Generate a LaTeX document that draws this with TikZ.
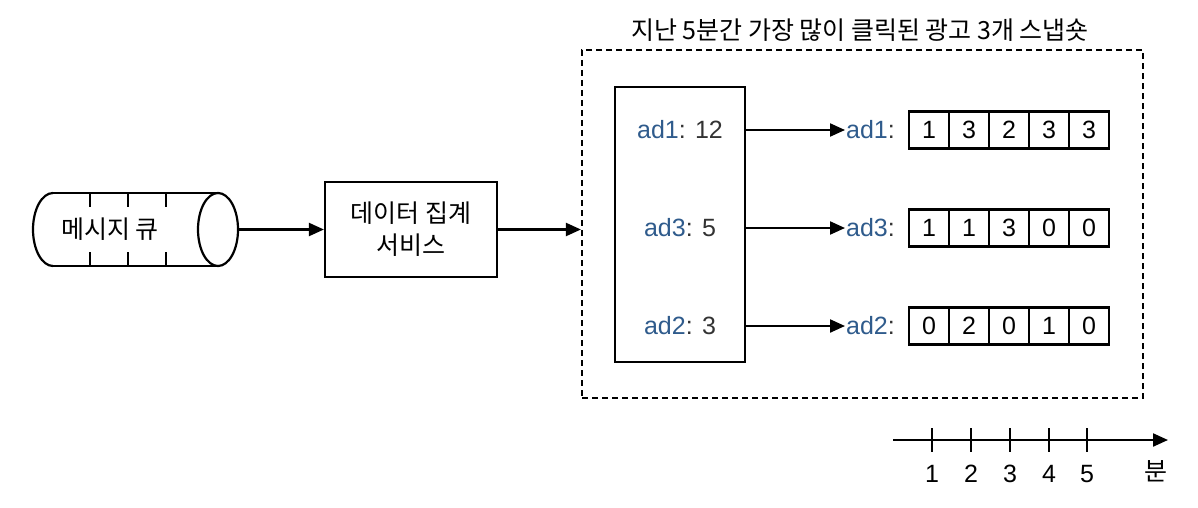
\documentclass[tikz,border=0pt]{standalone}
\usepackage{fontspec}
\setmainfont{Liberation Sans}
\newfontfamily\kr{Noto Sans CJK KR}
\usetikzlibrary{arrows.meta}
\definecolor{adblue}{HTML}{2F5B8C}
\definecolor{numgray}{HTML}{333333}
\begin{document}
\begin{tikzpicture}[x=1pt,y=-1pt,
  line width=2.2pt,
  arr/.style={-{Triangle[length=15pt,width=13pt]}},
  cell/.style={draw,minimum width=40pt,minimum height=37pt,inner sep=0pt,font=\fontsize{25}{28}\selectfont,anchor=west},
  txt/.style={font=\fontsize{25}{28}\selectfont,inner sep=0pt},
  krtxt/.style={font=\fontsize{25}{32}\selectfont\kr,inner sep=0pt},
  box/.style={draw,inner sep=0pt}]
\useasboundingbox (0,0) rectangle (1198,508);
% queue
\draw (53,193) -- (218,193) (53,266) -- (218,266);
\draw (53,193) arc[start angle=270,end angle=90,x radius=20,y radius=36.5];
\draw (218,229.5) ellipse[x radius=20,y radius=36.5];
\foreach \x in {90,128,166}{\draw (\x,193) -- (\x,207) (\x,252) -- (\x,266);}
\node[krtxt] (q) at (110,229) {메시지 큐};
\coordinate (qr) at (238,229.5);
% aggregation
\node[box,minimum width=172pt,minimum height=95pt,align=center,krtxt] (agg) at (411,229.5) {데이터 집계\\서비스};
\draw[arr] (qr) -- (agg.west);
% dashed
\node[draw,dash pattern=on 6pt off 4pt,minimum width=561pt,minimum height=348pt,inner sep=0pt] (dash) at (862.5,224) {};
\node[krtxt] (title) at (860,30) {지난 5분간 가장 많이 클릭된 광고 3개 스냅숏};
\draw[arr] (agg.east) -- (dash.west |- agg.east);
% inner
\node[box,minimum width=130pt,minimum height=275pt] (inner) at (680,224.5) {};
\node[txt] (l1) at (680,130) {\textcolor{adblue}{ad1}\textcolor{numgray}{: 12}};
\node[txt] (l2) at (680,228) {\textcolor{adblue}{ad3}\textcolor{numgray}{: 5}};
\node[txt] (l3) at (680,326) {\textcolor{adblue}{ad2}\textcolor{numgray}{: 3}};
\foreach \y/\n/\lab/\vals in {130/1/ad1/{1,3,2,3,3},228/2/ad3/{1,1,3,0,0},326/3/ad2/{0,2,0,1,0}}{
  \coordinate (s\n) at (745,\y);
  \node[txt,anchor=west] (r\n) at (845,\y) {\textcolor{adblue}{\lab}\textcolor{numgray}{:}};
  \draw[arr] (s\n) -- (r\n.west);
  \foreach \v [count=\i] in \vals {
    \node[cell] (c\n\i) at ({908+40*(\i-1)},\y) {\v};
  }
}
% axis
\coordinate (a0) at (893,440);
\coordinate (a1) at (1168,440);
\draw[arr] (a0) -- (a1);
\foreach \x [count=\i] in {932,971,1010,1049,1087}{
  \draw (\x,428) -- (\x,452);
  \node[txt] (t\i) at (\x,474) {\i};
}
\node[krtxt] (unit) at (1156,471) {분};
\end{tikzpicture}
\end{document}
